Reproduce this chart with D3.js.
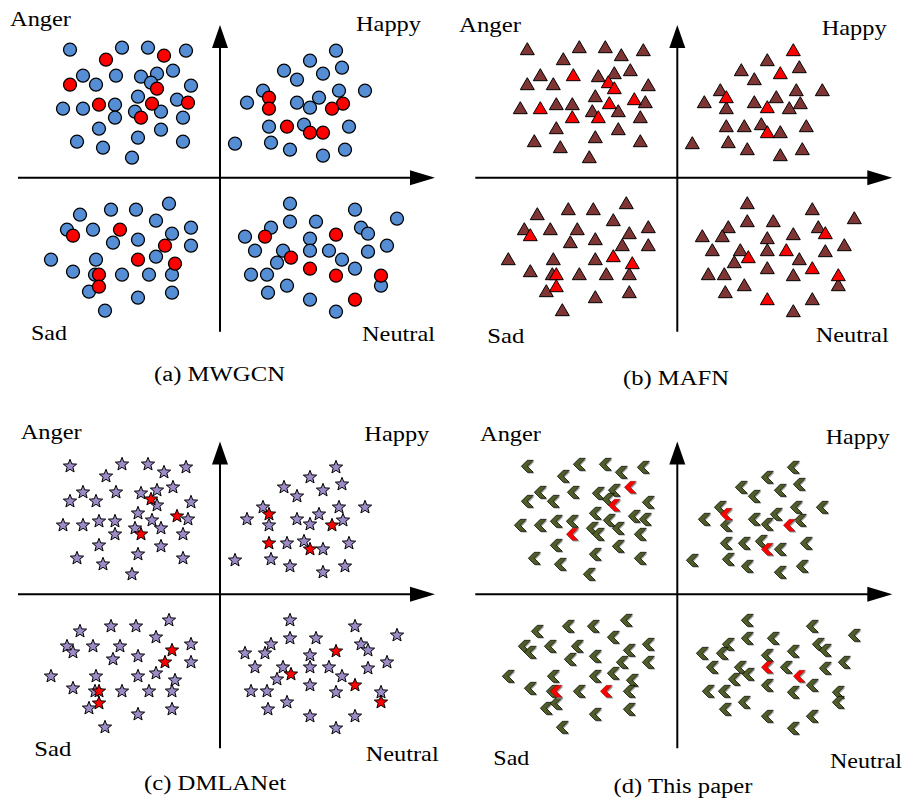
<!DOCTYPE html>
<html>
<head>
    <meta charset="utf-8">
    <title>Emotion feature distribution</title>
    <script src="https://cdn.jsdelivr.net/npm/d3@7"></script>
    <style>
        html, body { margin: 0; padding: 0; background: #fff; }
        svg { display: block; background: #fff; }
        svg text { font-family: "Liberation Serif", "Times New Roman", Tinos, serif; fill: #000; }
        svg .axis { stroke: #000; stroke-width: 2; fill: none; }
        svg .head { fill: #000; stroke: none; }
    </style>
</head>
<body>
<svg></svg>
<script>
// feature positions, offset from the origin of each plot (x right, y up)
var angerPts = [
    [-150,128],[-98,130],[-72,130],[-34,127],[-114,118],[-56,122],[-137,102],[-104,102],
    [-79,101],[-63,104],[-47,107],[-150,93],[-124,93],[-69,95],[-63,89],[-29,92],
    [-82,81],[-43,78],[-32,75],[-157,69],[-137,69],[-121,73],[-105,73],[-68,74],
    [-85,66],[-59,66],[-105,60],[-79,60],[-37,60],[-121,49],[-59,48],[-143,36],
    [-82,40],[-37,36],[-117,30],[-88,20]
];
var happyPts = [
    [116,127],[90,117],[122,110],[64,107],[103,104],[77,98],[43,87],[119,87],
    [145,87],[49,80],[99,80],[27,75],[77,75],[123,74],[49,69],[90,70],
    [112,69],[49,51],[67,51],[84,53],[129,51],[90,45],[103,45],[15,34],
    [51,35],[70,28],[125,28],[103,22]
];
var sadPts = [
    [-51,-26],[-140,-37],[-109,-32],[-84,-32],[-64,-43],[-153,-52],[-147,-58],[-127,-52],
    [-100,-52],[-48,-56],[-29,-50],[-107,-65],[-82,-62],[-55,-68],[-29,-68],[-169,-82],
    [-124,-82],[-82,-82],[-64,-79],[-45,-86],[-147,-94],[-125,-97],[-121,-97],[-98,-97],
    [-71,-97],[-48,-97],[-131,-114],[-121,-109],[-82,-120],[-48,-115],[-115,-133]
];
var neutralPts = [
    [70,-26],[135,-32],[177,-41],[70,-44],[96,-44],[51,-50],[141,-50],[25,-59],
    [45,-59],[90,-61],[116,-57],[148,-56],[35,-73],[63,-73],[90,-73],[109,-73],
    [148,-74],[167,-68],[71,-80],[122,-82],[57,-85],[90,-91],[135,-91],[116,-98],
    [31,-97],[47,-97],[161,-98],[161,-108],[67,-108],[48,-115],[90,-122],[135,-122],
    [116,-134]
];

// misclassified samples (1-based index into each quadrant list), per method
var methods = ['(a) MWGCN', '(b) MAFN', '(c) DMLANet', '(d) This paper'];
var redAnger   = [[5,6,12,15,19,22,24,28], [8,14,15,18,21,24,27,28], [14,18,28], [11,15,27]];
var redHappy   = [[10,14,15,17,19,22,23], [1,5,10,16,22], [10,17,18,22], [10,17,22]];
var redSad     = [[7,9,14,18,20,23,28], [7,19,20,23,28], [10,14,23,28], [23,25]];
var redNeutral = [[9,11,19,22,24,27,32], [12,16,19,23,27,31], [11,19,23,28], [15,20]];

var quadrants = ['Anger', 'Happy', 'Sad', 'Neutral'];

(function () {
    var w = 906, h = 805;

    var svg = d3.select('svg').attr('width', w).attr('height', h);

    // panel layout: origin, marker, colour, label spots
    var panels = [
        { ox: 220,   oy: 177.7, shape: 'circle',   fill: '#558ed5',
          labels: [[10,26,61],[356,30.7,65],[31,340,36],[362,340.7,73]], cap: [219.5,381,131] },
        { ox: 677.3, oy: 177.7, shape: 'triangle', fill: '#7f3533',
          labels: [[459,31.7,62],[821.7,35,65],[487.3,342.7,37],[815.7,341.7,73]], cap: [676,385,106] },
        { ox: 220,   oy: 594.3, shape: 'star',     fill: '#9d8bc8',
          labels: [[20.7,439.3,61],[364.3,440.7,65],[34.3,755.7,37],[365.7,761,73]], cap: [215,790,142] },
        { ox: 677.3, oy: 594.3, shape: 'chevron',  fill: '#4f5e28',
          labels: [[480,440.7,61],[825.7,444.3,64],[493.3,765,36],[830,767.7,72]], cap: [683,793.3,139] }
    ];

    function starPath(ro, ri) {
        var p = [], i, a, r;
        for (i = 0; i < 10; i++) {
            a = -Math.PI / 2 + i * Math.PI / 5;
            r = i % 2 ? ri : ro;
            p.push([r * Math.cos(a), r * Math.sin(a)]);
        }
        return 'M' + p.join('L') + 'Z';
    }

    var shapes = {
        triangle: 'M0,-7L7,5L-7,5Z',
        star: starPath(7, 3),
        chevron: 'M-6,0L0,-6L6,-6L0,0L6,6L0,6Z'
    };

    function marker(g, pts, shape, fill, sw) {
        var sel = g.selectAll(null).data(pts).enter();
        if (shape === 'circle') {
            sel.append('circle')
                .attr('cx', function (d) { return d[0]; })
                .attr('cy', function (d) { return d[1]; })
                .attr('r', 6.5)
                .style('fill', fill).style('stroke', '#000').style('stroke-width', 1.3);
            return;
        }
        if (shape === 'chevron') {
            // soft drop shadow behind each chevron
            g.selectAll(null).data(pts).enter().append('path')
                .attr('d', shapes[shape])
                .attr('transform', function (d) { return 'translate(' + (d[0] + 1.2) + ',' + (d[1] + 1.2) + ')'; })
                .style('fill', '#9a9a9a').style('stroke', 'none');
        }
        sel.append('path')
            .attr('d', shapes[shape])
            .attr('transform', function (d) { return 'translate(' + d[0] + ',' + d[1] + ')'; })
            .style('fill', fill).style('stroke', '#000').style('stroke-width', sw);
    }

    panels.forEach(function (p, k) {
        var x = d3.scaleLinear().domain([-202, 215]).range([p.ox - 202, p.ox + 215]),
            y = d3.scaleLinear().domain([-154, 152.7]).range([p.oy + 154, p.oy - 152.7]);

        var g = svg.append('g');

        // axes with arrow heads
        var xd = x.domain(), yd = y.domain();
        g.append('line').attr('class', 'axis')
            .attr('x1', x(xd[0])).attr('x2', x(xd[1]) - 20)
            .attr('y1', y(0)).attr('y2', y(0));
        g.append('path').attr('class', 'head')
            .attr('d', 'M' + x(xd[1]) + ',' + y(0) + 'L' + (x(xd[1]) - 25) + ',' + (y(0) - 7.5) +
                       'L' + (x(xd[1]) - 25) + ',' + (y(0) + 7.5) + 'Z');
        g.append('line').attr('class', 'axis')
            .attr('x1', x(0)).attr('x2', x(0))
            .attr('y1', y(yd[0])).attr('y2', y(yd[1]) + 18);
        g.append('path').attr('class', 'head')
            .attr('d', 'M' + x(0) + ',' + y(yd[1]) + 'L' + (x(0) - 8) + ',' + (y(yd[1]) + 23) +
                       'L' + (x(0) + 8) + ',' + (y(yd[1]) + 23) + 'Z');

        // samples: correctly placed first, misplaced ones on top
        var groups = [angerPts, happyPts, sadPts, neutralPts],
            reds = [redAnger[k], redHappy[k], redSad[k], redNeutral[k]],
            normal = [], wrong = [];
        groups.forEach(function (pts, q) {
            pts.forEach(function (d, i) {
                var pt = [x(d[0]), y(d[1])];
                if (reds[q].indexOf(i + 1) >= 0) wrong.push(pt); else normal.push(pt);
            });
        });
        var sw = p.shape === 'chevron' ? 0.7 : 1;
        marker(g, normal, p.shape, p.fill, sw);
        marker(g, wrong, p.shape, '#ff0000', p.shape === 'chevron' ? 0.3 : sw);

        // quadrant names
        quadrants.forEach(function (name, q) {
            var l = p.labels[q];
            g.append('text').text(name)
                .attr('x', l[0]).attr('y', l[1])
                .attr('textLength', l[2]).attr('lengthAdjust', 'spacingAndGlyphs')
                .style('font-size', '21px');
        });

        g.append('text').text(methods[k])
            .attr('x', p.cap[0] - p.cap[2] / 2).attr('y', p.cap[1])
            .attr('textLength', p.cap[2]).attr('lengthAdjust', 'spacingAndGlyphs')
            .style('font-size', '20px');
    });
})();
</script>
</body>
</html>
